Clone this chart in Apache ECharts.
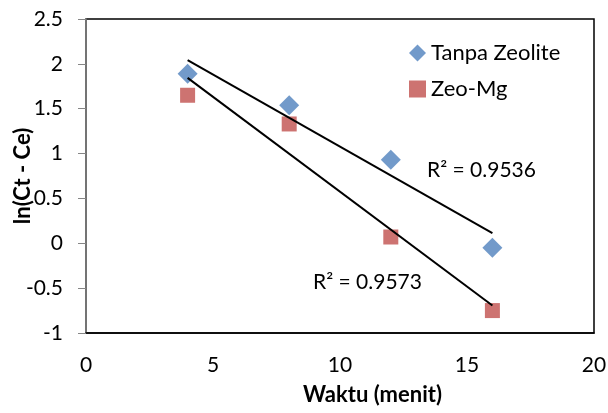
<!DOCTYPE html>
<html>
<head>
<meta charset="utf-8">
<script src="https://cdn.jsdelivr.net/npm/echarts@6/dist/echarts.min.js"></script>
<style>
  html, body { margin: 0; padding: 0; background: #fff; }
  #main { width: 608px; height: 413px; }
</style>
</head>
<body>
<div id="main"></div>
<script>
const waktu = [4, 8, 12, 16];
const tanpaZeolite = [1.89, 1.54, 0.93, -0.05];
const zeoMg = [1.65, 1.33, 0.07, -0.75];
const r2Labels = ['R² = 0.9536', 'R² = 0.9573'];

// least squares line, like the Excel linear trendline
function fit(xs, ys) {
  const n = xs.length;
  const mx = xs.reduce((a, b) => a + b, 0) / n;
  const my = ys.reduce((a, b) => a + b, 0) / n;
  let sxy = 0, sxx = 0;
  for (let i = 0; i < n; i++) {
    sxy += (xs[i] - mx) * (ys[i] - my);
    sxx += (xs[i] - mx) * (xs[i] - mx);
  }
  const k = sxy / sxx;
  const x0 = xs[0], x1 = xs[n - 1];
  return [[x0, my + k * (x0 - mx)], [x1, my + k * (x1 - mx)]];
}

const font = 'Lato, "Open Sans", sans-serif';
const chartDom = document.getElementById('main');
const myChart = echarts.init(chartDom);

let option = {
  animation: false,
  grid: {
    left: 86, right: 14, top: 19, bottom: 80,
    outerBoundsMode: 'none', containLabel: false,
    show: true, borderColor: '#000', borderWidth: 1.5
  },
  legend: {
    orient: 'vertical',
    left: 404, top: 37,
    itemGap: 14,
    itemWidth: 17, itemHeight: 17,
    textStyle: { fontFamily: font, fontSize: 22, color: '#000' },
    data: [
      { name: 'Tanpa Zeolite', icon: 'diamond' },
      { name: 'Zeo-Mg', icon: 'rect' }
    ]
  },
  xAxis: {
    type: 'value', min: 0, max: 20, interval: 5,
    axisLine: { show: true, onZero: false, lineStyle: { color: '#000', width: 1.5 } },
    axisTick: { show: false },
    splitLine: { show: false },
    axisLabel: { fontFamily: font, fontSize: 21, color: '#000', margin: 22 }
  },
  yAxis: {
    type: 'value', min: -1, max: 2.5, interval: 0.5,
    axisLine: { show: true, lineStyle: { color: '#868686', width: 1.5 } },
    axisTick: { show: true, length: 8, lineStyle: { color: '#868686' } },
    splitLine: { show: false },
    axisLabel: { fontFamily: font, fontSize: 21, color: '#000', margin: 23 }
  },
  series: [
    {
      name: 'Tanpa Zeolite', type: 'scatter', symbol: 'diamond', symbolSize: 20,
      itemStyle: { color: '#4F81BD' }, z: 2,
      data: waktu.map((x, i) => [x, tanpaZeolite[i]])
    },
    {
      name: 'Zeo-Mg', type: 'scatter', symbol: 'rect', symbolSize: 15,
      itemStyle: { color: '#C0504D' }, z: 2,
      data: waktu.map((x, i) => [x, zeoMg[i]])
    },
    {
      name: 'trend1', type: 'line', showSymbol: false, silent: true, z: 3,
      lineStyle: { color: '#000', width: 2 },
      data: fit(waktu, tanpaZeolite)
    },
    {
      name: 'trend2', type: 'line', showSymbol: false, silent: true, z: 3,
      lineStyle: { color: '#000', width: 2 },
      data: fit(waktu, zeoMg)
    }
  ],
  graphic: [
    { type: 'text', x: 23, y: 176, rotation: Math.PI / 2,
      style: { text: 'ln(Ct - Ce)', font: 'bold 22px ' + font, fill: '#000',
               align: 'center', verticalAlign: 'middle' } },
    { type: 'text', left: 303, top: 384,
      style: { text: 'Waktu (menit)', font: 'bold 22px ' + font, fill: '#000' } },
    { type: 'text', left: 427, top: 160,
      style: { text: r2Labels[0], font: '21px ' + font, fill: '#000' } },
    { type: 'text', left: 313, top: 272,
      style: { text: r2Labels[1], font: '21px ' + font, fill: '#000' } }
  ]
};

myChart.setOption(option);
</script>
</body>
</html>
